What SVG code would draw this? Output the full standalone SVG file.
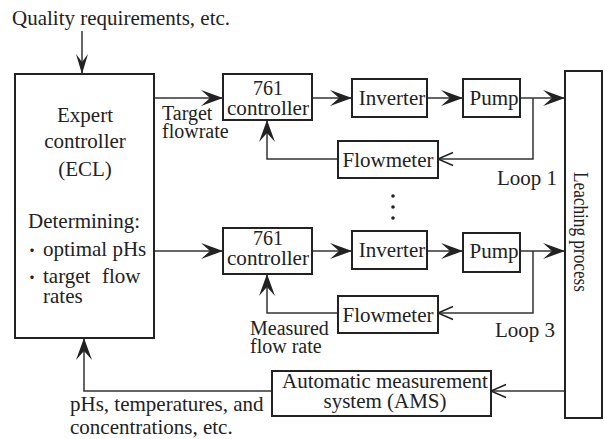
<svg xmlns="http://www.w3.org/2000/svg" width="605" height="439" viewBox="0 0 605 439">
<style>
text{font-family:"Liberation Serif","Times New Roman",serif;font-size:21px;fill:#222}
.box{fill:#fff;stroke:#222;stroke-width:2}
.ln{fill:none;stroke:#333;stroke-width:1.5}
.c{text-anchor:middle}
.s{font-size:20px}
.t{font-size:20px}
</style>
<defs>
<marker id="ah" viewBox="-24 -10 26 20" refX="0" refY="0" markerWidth="26" markerHeight="20" markerUnits="userSpaceOnUse" orient="auto">
<path d="M0,0 L-22,-8 L-13,0 L-22,8 Z" fill="#222"/>
</marker>
<marker id="ahs" viewBox="-24 -10 26 20" refX="0" refY="0" markerWidth="26" markerHeight="20" markerUnits="userSpaceOnUse" orient="auto">
<path d="M0,0 L-20,-6 L-12,0 L-20,6 Z" fill="#222"/>
</marker>
<marker id="ao" viewBox="-18 -10 20 20" refX="0" refY="0" markerWidth="20" markerHeight="20" markerUnits="userSpaceOnUse" orient="auto">
<path d="M-15,-6.5 L0,0 L-15,6.5" fill="none" stroke="#222" stroke-width="1.5"/>
</marker>
</defs>

<text x="12" y="25">Quality requirements, etc.</text>

<g id="connectors">
<line class="ln" x1="82" y1="31" x2="82" y2="74" marker-end="url(#ahs)"/>
<line class="ln" x1="154" y1="98" x2="223" y2="98" marker-end="url(#ah)"/>
<line class="ln" x1="312" y1="98" x2="352" y2="98" marker-end="url(#ah)"/>
<line class="ln" x1="427" y1="98" x2="463" y2="98" marker-end="url(#ah)"/>
<line class="ln" x1="520" y1="98" x2="565" y2="98" marker-end="url(#ah)"/>
<polyline class="ln" points="533,98 533,159 438,159" marker-end="url(#ao)"/>
<polyline class="ln" points="338,159 267,159 267,120" marker-end="url(#ah)"/>
<line class="ln" x1="154" y1="251" x2="223" y2="251" marker-end="url(#ah)"/>
<line class="ln" x1="312" y1="251" x2="352" y2="251" marker-end="url(#ah)"/>
<line class="ln" x1="427" y1="251" x2="463" y2="251" marker-end="url(#ah)"/>
<line class="ln" x1="520" y1="251" x2="565" y2="251" marker-end="url(#ah)"/>
<polyline class="ln" points="533,251 533,313 438,313" marker-end="url(#ao)"/>
<polyline class="ln" points="338,313 267,313 267,274" marker-end="url(#ah)"/>
<line class="ln" x1="565" y1="391" x2="491" y2="391" marker-end="url(#ao)"/>
<polyline class="ln" points="272,391 84,391 84,338" marker-end="url(#ah)"/>
</g>

<g id="ecl">
<rect class="box" x="15" y="74" width="139" height="264"/>
<text class="c" x="85" y="122">Expert</text>
<text class="c" x="85" y="148">controller</text>
<text class="c" x="85" y="176">(ECL)</text>
<text x="28" y="228">Determining:</text>
<text y="256"><tspan x="24" font-family="Noto Sans CJK JP, sans-serif" font-size="16">・</tspan><tspan x="43">optimal pHs</tspan></text>
<text y="283"><tspan x="24" font-family="Noto Sans CJK JP, sans-serif" font-size="16">・</tspan><tspan x="43">target</tspan><tspan x="102">flow</tspan></text>
<text x="43" y="303">rates</text>
</g>

<text class="s" x="162" y="120">Target</text>
<text class="s" x="162" y="138">flowrate</text>

<g id="ctrl1">
<rect class="box" x="223" y="74" width="89" height="46"/>
<text class="c t" x="268" y="95">761</text>
<text class="c t" x="268" y="115" textLength="82" lengthAdjust="spacingAndGlyphs">controller</text>
</g>
<g id="inv1">
<rect class="box" x="352" y="79" width="75" height="38"/>
<text class="c" x="392" y="105">Inverter</text>
</g>
<g id="pump1">
<rect class="box" x="463" y="79" width="57" height="38"/>
<text class="c" x="494" y="105">Pump</text>
</g>
<g id="flow1">
<rect class="box" x="338" y="141" width="100" height="37"/>
<text class="c" x="388" y="167">Flowmeter</text>
</g>
<text x="497" y="185">Loop 1</text>

<g id="dots" fill="#222">
<circle cx="393" cy="196" r="1.8"/>
<circle cx="393" cy="207" r="1.8"/>
<circle cx="393" cy="218" r="1.8"/>
</g>

<g id="ctrl2">
<rect class="box" x="223" y="228" width="89" height="46"/>
<text class="c t" x="268" y="245">761</text>
<text class="c t" x="268" y="265" textLength="82" lengthAdjust="spacingAndGlyphs">controller</text>
</g>
<g id="inv2">
<rect class="box" x="352" y="231" width="75" height="38"/>
<text class="c" x="392" y="257">Inverter</text>
</g>
<g id="pump2">
<rect class="box" x="463" y="233" width="57" height="39"/>
<text class="c" x="494" y="258">Pump</text>
</g>
<g id="flow2">
<rect class="box" x="338" y="296" width="100" height="37"/>
<text class="c" x="388" y="322">Flowmeter</text>
</g>
<text x="495" y="337">Loop 3</text>
<text class="s" x="250" y="335">Measured</text>
<text class="s" x="250" y="353">flow rate</text>

<g id="leach">
<rect class="box" x="565" y="71" width="37" height="347"/>
<text class="c" transform="translate(574,232) rotate(90)" x="0" y="0" textLength="120" lengthAdjust="spacingAndGlyphs">Leaching process</text>
</g>

<g id="ams">
<rect class="box" x="272" y="371" width="219" height="45"/>
<text class="c" x="385" y="388">Automatic measurement</text>
<text class="c" x="385" y="408">system (AMS)</text>
</g>

<text x="70" y="411">pHs, temperatures, and</text>
<text x="70" y="434">concentrations, etc.</text>
</svg>
